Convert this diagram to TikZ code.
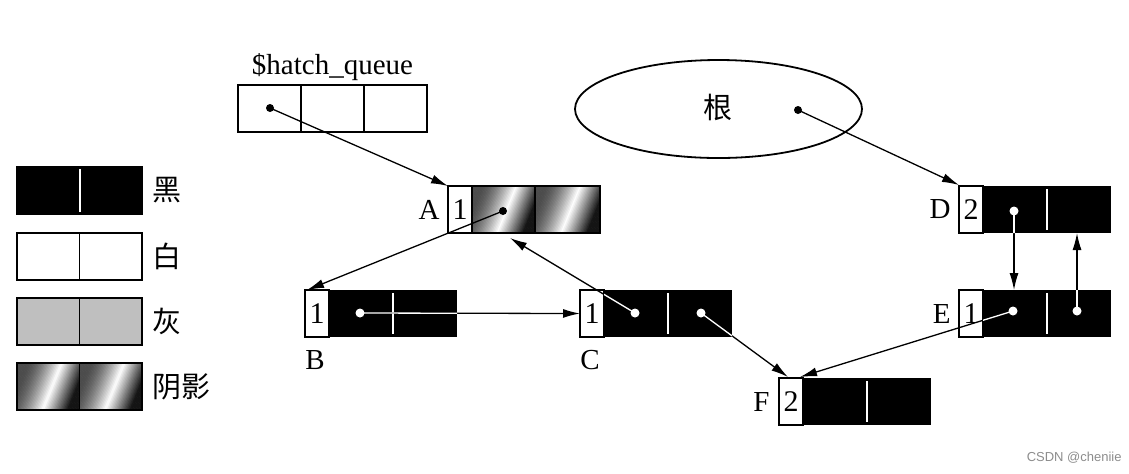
\documentclass[tikz,border=0pt]{standalone}
\usepackage{fontspec}
\setmainfont{Liberation Serif}
\newfontfamily\cjk{Noto Sans CJK SC}
\newfontfamily\wmfont{Liberation Sans}
\usetikzlibrary{arrows.meta}
\usetikzlibrary{positioning}
\usetikzlibrary{shapes.geometric}
\tikzstyle{objnode} = [fill=black, minimum width=76pt, minimum height=23.5pt, inner sep=0pt, outer sep=0pt]
\tikzstyle{cntnode} = [draw, fill=white, line width=0.9pt, minimum width=12pt, minimum height=23.5pt, inner sep=0pt, outer sep=0pt, font=\fontsize{15}{16}\selectfont]
\tikzstyle{qcell} = [draw, line width=0.9pt, minimum width=31.5pt, minimum height=23.5pt, inner sep=0pt, outer sep=0pt]
\tikzstyle{legcell} = [draw, line width=0.9pt, minimum width=31.25pt, minimum height=23.5pt, inner sep=0pt, outer sep=0pt]
\tikzstyle{lbl} = [font=\fontsize{14.5}{16}\selectfont, inner sep=0pt]
\tikzstyle{cjklbl} = [font=\cjk\fontsize{14.5}{16}\selectfont, inner sep=0pt]
\tikzstyle{wdot} = [circle, fill=white, minimum size=4.5pt, inner sep=0pt]
\tikzstyle{bdot} = [circle, fill=black, minimum size=4pt, inner sep=0pt]
\tikzstyle{link} = [line width=0.65pt, -{Latex[length=8.5pt,width=4.5pt]}]

% shaded cell with a slanted light streak: left x, top y, width (all px)
\newcommand{\hatchcell}[3]{%
  \begin{scope}
    \clip (#1,#2) rectangle ++(#3,47);
    \foreach \u in {-21,-19.5,...,#3} {
      \pgfmathsetmacro\p{max(0,min(1,(\u+9.5)/#3))}
      \pgfmathsetmacro\b{\p<0.55 ? 30+70*(\p/0.55)^1.6 : max(8,100-92*(\p-0.55)/0.4)}
      \fill[white!\b!black] (#1+\u,#2+47) -- ++(2,0) -- ++(19,-47) -- ++(-2,0) -- cycle;
    }
  \end{scope}
}

% black object: name, left x, top y, count
\newcommand{\objbox}[4]{%
  \node[objnode, anchor=north west] (#1) at (#2,#3) {};
  \node[cntnode, anchor=north west] (#1c) at (#1.north west) {#4};
  \draw[white, line width=1pt] ([xshift=44pt, yshift=-1.5pt]#1.north west) -- ([xshift=44pt, yshift=1.5pt]#1.south west);
}

% all pointers, drawn once black and once white inside the black parts
\newcommand{\links}[1]{%
  \draw[#1] (hqp) -- (A.north west);
  \draw[#1] (Ap) -- ([xshift=1pt]B.north west);
  \draw[#1] (Cp1) -- ([xshift=31pt, yshift=-2.5pt]A.south west);
  \draw[#1] (Bp) -- (C.west);
  \draw[#1] (Cp2) -- ([xshift=4.5pt, yshift=0.5pt]F.north west);
  \draw[#1] (Ep1) -- ([xshift=10.5pt, yshift=0.5pt]F.north west);
  \draw[#1] (rootp) -- ([yshift=0.5pt]D.north west);
  \draw[#1] (Dp) -- (Dp |- E.north);
  \draw[#1] (Ep2) -- (Ep2 |- D.south);
}

\begin{document}
\begin{tikzpicture}[x=0.5pt, y=-0.5pt]
  \useasboundingbox (0,0) rectangle (1129,473);

  % legend
  \node[legcell, fill=black] (k1) at (48.25,190.5) {};
  \node[legcell, fill=black, right=0pt of k1] (k2) {};
  \draw[white, line width=1pt] ([yshift=-1pt]k1.north east) -- ([yshift=1pt]k1.south east);
  \node[cjklbl, right=5pt of k2] (klbl) {黑};
  \node[legcell, fill=white, below=9.5pt of k1] (w1) {};
  \node[legcell, fill=white, right=0pt of w1] (w2) {};
  \node[cjklbl, right=5pt of w2] (wlbl) {白};
  \node[legcell, fill=black!25, below=9pt of w1] (g1) {};
  \node[legcell, fill=black!25, right=0pt of g1] (g2) {};
  \node[cjklbl, right=5pt of g2] (glbl) {灰};
  \hatchcell{17}{363.5}{62.5}
  \hatchcell{79.5}{363.5}{62.5}
  \node[legcell, below=9pt of g1] (s1) {};
  \node[legcell, right=0pt of s1] (s2) {};
  \node[cjklbl, right=5pt of s2] (slbl) {阴影};

  % $hatch_queue
  \node[qcell] (hq1) at (269.5,108.5) {};
  \node[qcell, right=0pt of hq1] (hq2) {};
  \node[qcell, right=0pt of hq2] (hq3) {};
  \node[lbl, above=2pt of hq2] (hqlbl) {\$hatch\_queue};

  % roots
  \node[draw, ellipse, line width=0.9pt, minimum width=143.5pt, minimum height=49pt] (root) at (718.5,109) {};
  \node[cjklbl] (rootlbl) at (718,107) {根};

  % object A (hatched)
  \hatchcell{471}{186}{64}
  \hatchcell{535}{186}{64}
  \node[objnode, fill=none, draw, line width=0.9pt, anchor=north west] (A) at (448,186) {};
  \node[cntnode, anchor=north west] (Ac) at (A.north west) {1};
  \draw[line width=0.9pt] (535,186) -- (535,233);

  % black objects
  \objbox{B}{305}{290}{1}
  \objbox{C}{580}{290}{1}
  \objbox{D}{959}{186}{2}
  \objbox{E}{959}{290}{1}
  \objbox{F}{779}{378}{2}

  \node[lbl, left=4pt of A] (Albl) {A};
  \node[lbl, anchor=north west] (Blbl) at ([yshift=-6.5pt]B.south west) {B};
  \node[lbl, anchor=north west] (Clbl) at ([yshift=-6.5pt]C.south west) {C};
  \node[lbl, left=4pt of D] (Dlbl) {D};
  \node[lbl, left=4pt of E] (Elbl) {E};
  \node[lbl, left=4.5pt of F] (Flbl) {F};

  % pointer fields
  \coordinate (hqp) at (270,108);
  \coordinate (rootp) at (798,110);
  \coordinate (Ap) at (503,211);
  \coordinate (Bp) at (360,313);
  \coordinate (Cp1) at (635,313);
  \coordinate (Cp2) at (701,313);
  \coordinate (Dp) at (1014,211);
  \coordinate (Ep1) at (1013,311);
  \coordinate (Ep2) at (1077,311);

  \links{link}
  \begin{scope}
    \clip (Bc.north east) rectangle (B.south east)
          (Cc.north east) rectangle (C.south east)
          (Dc.north east) rectangle (D.south east)
          (Ec.north east) rectangle (E.south east)
          (Fc.north east) rectangle (F.south east);
    \links{link, white}
  \end{scope}

  \node[bdot] (hqd) at (hqp) {};
  \node[bdot] (rootd) at (rootp) {};
  \node[bdot] (Ad) at (Ap) {};
  \node[wdot] (Bd) at (Bp) {};
  \node[wdot] (Cd1) at (Cp1) {};
  \node[wdot] (Cd2) at (Cp2) {};
  \node[wdot] (Dd) at (Dp) {};
  \node[wdot] (Ed1) at (Ep1) {};
  \node[wdot] (Ed2) at (Ep2) {};

  \node[anchor=east, inner sep=0pt, text=black!45, font=\wmfont\fontsize{6.5}{7}\selectfont] (wm) at (1122,458) {CSDN @cheniie};
\end{tikzpicture}
\end{document}
